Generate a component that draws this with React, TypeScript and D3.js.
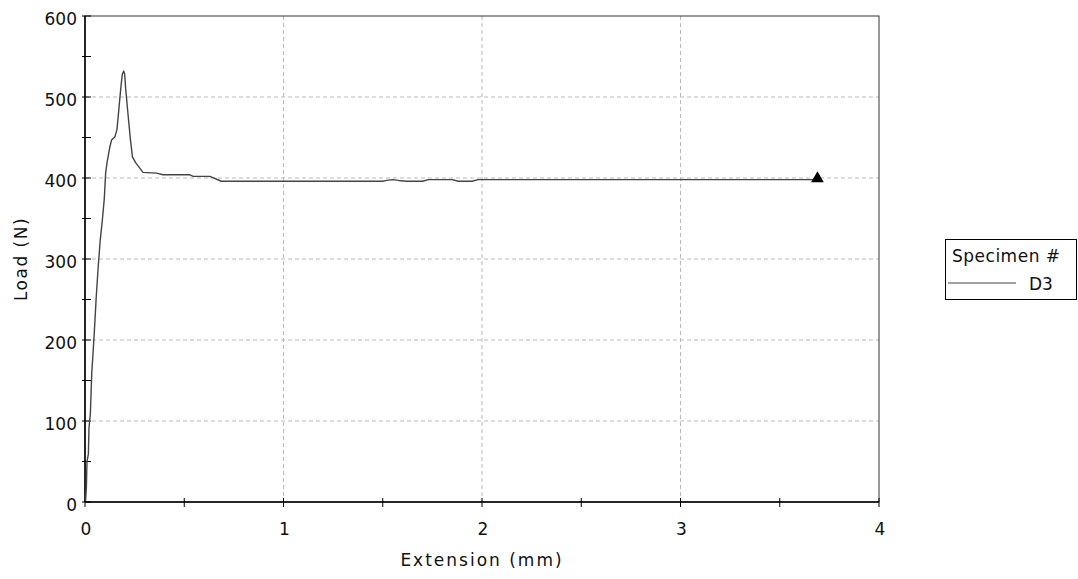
import React from "react";
import * as d3 from "d3";

const extension: number[] = [0, 0.003, 0.007, 0.01, 0.017, 0.02, 0.027, 0.034, 0.04, 0.047, 0.057, 0.067, 0.077, 0.087, 0.097, 0.104, 0.111, 0.124, 0.134, 0.151, 0.161, 0.168, 0.175, 0.182, 0.188, 0.195, 0.2, 0.205, 0.215, 0.229, 0.239, 0.255, 0.292, 0.36, 0.393, 0.528, 0.545, 0.629, 0.687, 1.0, 1.5, 1.52, 1.55, 1.58, 1.62, 1.7, 1.73, 1.85, 1.88, 1.95, 1.98, 2.5, 3.0, 3.5, 3.69];
const load: number[] = [5, 2, 18, 50, 59, 91, 109, 159, 182, 210, 255, 292, 324, 347, 374, 406, 419, 437, 447, 451, 460, 478, 497, 515, 528, 532, 528, 510, 483, 447, 426, 419, 407, 406, 404, 404, 402, 402, 396, 396, 396, 397, 398, 397, 396, 396, 398, 398, 396, 396, 398, 398, 398, 398, 398];
const xTicks: number[] = [0, 1, 2, 3, 4];
const xMinorTicks: number[] = [0, 0.5, 1, 1.5, 2, 2.5, 3, 3.5, 4];
const yTicks: number[] = [0, 100, 200, 300, 400, 500, 600];
const yMinorTicks: number[] = [0, 50, 100, 150, 200, 250, 300, 350, 400, 450, 500, 550, 600];
const legendTitle = "Specimen #";
const seriesName = "D3";
const breakPoint = { x: 3.69, y: 398 };

export default function App() {
  const W = 1078, H = 579;
  const left = 85, right = 879, top = 16, bottom = 502;
  const x = d3.scaleLinear().domain([0, 4]).range([left, right]);
  const y = d3.scaleLinear().domain([0, 600]).range([bottom, top]);
  const pts = extension.map((e, i) => [e, load[i]] as [number, number]);
  const line = d3.line<[number, number]>().x(d => x(d[0])).y(d => y(d[1]))(pts) || "";
  const font = "'DejaVu Sans', Verdana, sans-serif";
  const tri = d3.symbol().type(d3.symbolTriangle).size(70)() || "";
  return (
    <svg width={W} height={H} style={{ position: "absolute", left: 0, top: 0 }} fontFamily={font}>
      <rect x={0} y={0} width={W} height={H} fill="#fff" />
      {xTicks.filter(t => t > 0 && t < 4).map(t => (
        <line key={"gx" + t} x1={x(t)} x2={x(t)} y1={top} y2={bottom} stroke="#bbb" strokeDasharray="4,3" />
      ))}
      {yTicks.filter(t => t > 0 && t < 600).map(t => (
        <line key={"gy" + t} x1={left} x2={right} y1={y(t)} y2={y(t)} stroke="#bbb" strokeDasharray="4,3" />
      ))}
      <rect x={left} y={top} width={right - left} height={bottom - top} fill="none" stroke="#333" strokeWidth={1} />
      <line x1={left} x2={left} y1={top} y2={bottom} stroke="#000" strokeWidth={1.5} />
      <line x1={left} x2={right} y1={bottom} y2={bottom} stroke="#000" strokeWidth={1.5} />
      {xMinorTicks.map(t => (
        <line key={"tx" + t} x1={x(t)} x2={x(t)} y1={bottom - 4} y2={bottom + 5} stroke="#000" />
      ))}
      {yMinorTicks.map(t => (
        <line key={"ty" + t} x1={left - 3} x2={left + 6} y1={y(t)} y2={y(t)} stroke="#000" />
      ))}
      {xTicks.map(t => (
        <text key={"lx" + t} x={x(t) + 1} y={bottom + 33} textAnchor="middle" fontSize={17} fill="#111">{t}</text>
      ))}
      {yTicks.map(t => (
        <text key={"ly" + t} x={left - 8} y={y(t) + 9} textAnchor="end" fontSize={17} fill="#111">{t}</text>
      ))}
      <text x={(left + right) / 2} y={566} textAnchor="middle" fontSize={17} letterSpacing={2} fill="#111">Extension (mm)</text>
      <text transform={`translate(27,${(top + bottom) / 2}) rotate(-90)`} textAnchor="middle" fontSize={17} letterSpacing={1.5} fill="#111">Load (N)</text>
      <path d={line} fill="none" stroke="#444" strokeWidth={1.4} strokeLinejoin="round" />
      <path d={tri} transform={`translate(${x(breakPoint.x)},${y(breakPoint.y) - 1})`} fill="#000" />
      <rect x={945.5} y={239.5} width={131} height={60} fill="#fff" stroke="#000" />
      <text x={952} y={262} fontSize={17} letterSpacing={0.5} fill="#111">{legendTitle}</text>
      <line x1={948} x2={1016} y1={283} y2={283} stroke="#444" />
      <text x={1029} y={290} fontSize={17} fill="#111">{seriesName}</text>
    </svg>
  );
}
